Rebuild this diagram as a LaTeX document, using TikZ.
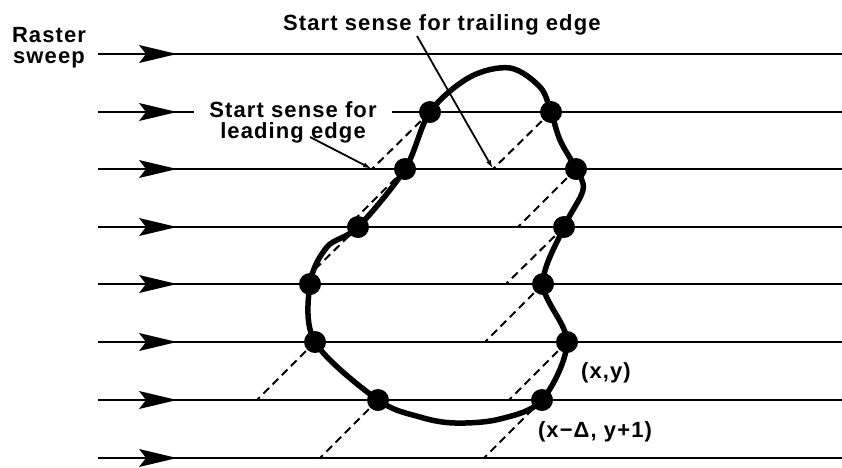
\documentclass[tikz,border=0pt]{standalone}
\usepackage{fontspec}
\newfontfamily\labfont[LetterSpace=5]{Liberation Sans Bold}
\usetikzlibrary{arrows.meta}
\begin{document}
\begin{tikzpicture}[x=1pt,y=-1pt,
  lab/.style={font=\labfont\fontsize{22}{21}\selectfont, inner sep=0pt},
  dot/.style={circle, fill=black, minimum size=22pt, inner sep=0pt},
  scan/.style={line width=2.5pt},
  sense/.style={line width=2pt, dash pattern=on 8pt off 5pt},
  edgeline/.style={line width=5.5pt, line join=round},
  pointer/.style={line width=1.8pt, -{Latex[length=9pt,width=5pt]}}]
\useasboundingbox[fill=white] (0,0) rectangle (842,467);
% raster scan lines with arrowheads
\foreach \y in {54,112,169,227,284,342,400,458} {
  \draw[scan] (98,\y) -- (842,\y);
  \fill (139,\y-9) -- (177,\y) -- (139,\y+9) -- (146,\y) -- cycle;
}
% dots positions
\coordinate (L2) at (430,112);
\coordinate (L3) at (405,169);
\coordinate (L4) at (358,227);
\coordinate (L5) at (310,284);
\coordinate (L6) at (315,342);
\coordinate (L7) at (378,400);
\coordinate (T2) at (551,112);
\coordinate (T3) at (576,169);
\coordinate (T4) at (564,227);
\coordinate (T5) at (543,284);
\coordinate (T6) at (567,342);
\coordinate (T7) at (542,400);
% ends of start-sense lines
\coordinate (l2e) at (372,169);
\coordinate (l3e) at (347,227);
\coordinate (l4e) at (300,284);
\coordinate (l6e) at (257,400);
\coordinate (l7e) at (320,458);
\coordinate (t2e) at (493,169);
\coordinate (t3e) at (518,227);
\coordinate (t4e) at (506,284);
\coordinate (t5e) at (485,342);
\coordinate (t6e) at (509,400);
\coordinate (t7e) at (484,458);
\draw[sense] (L2) -- (l2e);
\draw[sense] (L3) -- (l3e);
\draw[sense] (L4) -- (l4e);
\draw[sense] (L6) -- (l6e);
\draw[sense] (L7) -- (l7e);
\draw[sense] (T2) -- (t2e);
\draw[sense] (T3) -- (t3e);
\draw[sense] (T4) -- (t4e);
\draw[sense] (T5) -- (t5e);
\draw[sense] (T6) -- (t6e);
\draw[sense] (T7) -- (t7e);
% object outline
\draw[edgeline] plot[smooth cycle, tension=0.55] coordinates {
  (430,112) (470,77) (510,68) (540,87) (551,112) (560,140) (576,169)
  (583,190) (564,227) (543,284) (567,342) (542,400) (500,419) (455,423)
  (420,417) (378,400) (315,342) (310,284) (327,247) (358,227) (405,169)};
\foreach \p in {L2,L3,L4,L5,L6,L7,T2,T3,T4,T5,T6,T7}
  \node[dot] (d\p) at (\p) {};
% labels
\node[lab, align=center] (raster) at (49,48) {Raster\\sweep};
\node[lab, anchor=base west] (trail) at (283,30) {Start sense for trailing edge};
\node[lab, align=center, fill=white, inner xsep=15pt, inner ysep=1pt] (lead) at (293,122) {Start sense for\\leading edge};
\node[lab] (xy) at (606,373) {(x,y)};
\node[lab] (xdy) at (595,432) {(x−Δ, y+1)};
% pointers
\coordinate (tp) at (417,36);
\coordinate (lp) at (310,137);
\draw[pointer] (tp) -- (t2e);
\draw[pointer] (lp) -- (l2e);
\end{tikzpicture}
\end{document}
